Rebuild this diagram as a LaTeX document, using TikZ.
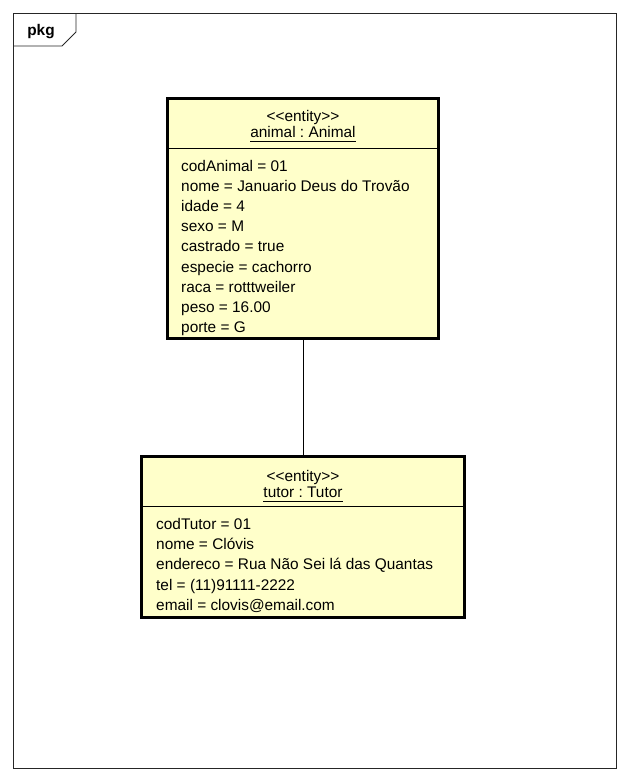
\documentclass[tikz,border=0pt]{standalone}
\usepackage{fontspec}
\setmainfont{Liberation Sans}
\frenchspacing
\definecolor{entfill}{RGB}{255,255,202}
\begin{document}
\begin{tikzpicture}[x=1pt,y=-1pt,
  txt/.style={inner sep=0pt, anchor=base west, font=\fontsize{15.4}{18}\selectfont\frenchspacing},
  ctxt/.style={inner sep=0pt, anchor=base, font=\fontsize{15.4}{18}\selectfont\frenchspacing},
  entbox/.style={draw=black, line width=2.6pt, fill=entfill, outer sep=0pt, inner sep=0pt, anchor=north west},
  sepline/.style={line width=1pt},
  uline/.style={line width=0.9pt},
  frameline/.style={line width=0.9pt, draw=black!85}
]
\useasboundingbox (0,0) rectangle (630,782);
% package frame
\draw[frameline] (13.5,13.5) rectangle (616.5,768.5);
\draw[frameline] (13.5,46) -- (62,46) -- (76,32) -- (76,13.5);
\node[inner sep=0pt, anchor=base, font=\bfseries\fontsize{15.4}{18}\selectfont] (pkg) at (41,35) {pkg};

% animal entity
\node[entbox, minimum width=271pt, minimum height=240pt] (animal) at (167.5,98.5) {};
\node[ctxt] (st1) at (303,121) {{<}{<}entity{>}{>}};
\node[ctxt] (nm1) at (303,137.5) {animal : Animal};
\draw[uline] ([yshift=-4pt]nm1.base west) -- ([yshift=-4pt]nm1.base east);
\draw[sepline] (animal.west |- 0,148.5) -- (animal.east |- 0,148.5);
\node[txt] (a1) at (181,171) {codAnimal = 01};
\node[txt] (a2) at (181,191.2) {nome = Januario Deus do Trovão};
\node[txt] (a3) at (181,211.4) {idade = 4};
\node[txt] (a4) at (181,231.6) {sexo = M};
\node[txt] (a5) at (181,251.8) {castrado = true};
\node[txt] (a6) at (181,272) {especie = cachorro};
\node[txt] (a7) at (181,292.2) {raca = rotttweiler};
\node[txt] (a8) at (181,312.4) {peso = 16.00};
\node[txt] (a9) at (181,332.6) {porte = G};

% tutor entity
\node[entbox, minimum width=323pt, minimum height=161pt] (tutor) at (141.5,456.5) {};
\node[ctxt] (st2) at (303,481) {{<}{<}entity{>}{>}};
\node[ctxt] (nm2) at (303,497.5) {tutor : Tutor};
\draw[uline] ([yshift=-4pt]nm2.base west) -- ([yshift=-4pt]nm2.base east);
\draw[sepline] (tutor.west |- 0,506.5) -- (tutor.east |- 0,506.5);
\node[txt] (t1) at (156,529.5) {codTutor = 01};
\node[txt] (t2) at (156,549.7) {nome = Clóvis};
\node[txt] (t3) at (156,569.9) {endereco = Rua Não Sei lá das Quantas};
\node[txt] (t4) at (156,590.1) {tel = (11)91111-2222};
\node[txt] (t5) at (156,610.3) {email = clovis@email.com};

% link
\draw[line width=1pt] (animal.south) -- (tutor.north);
\end{tikzpicture}
\end{document}
